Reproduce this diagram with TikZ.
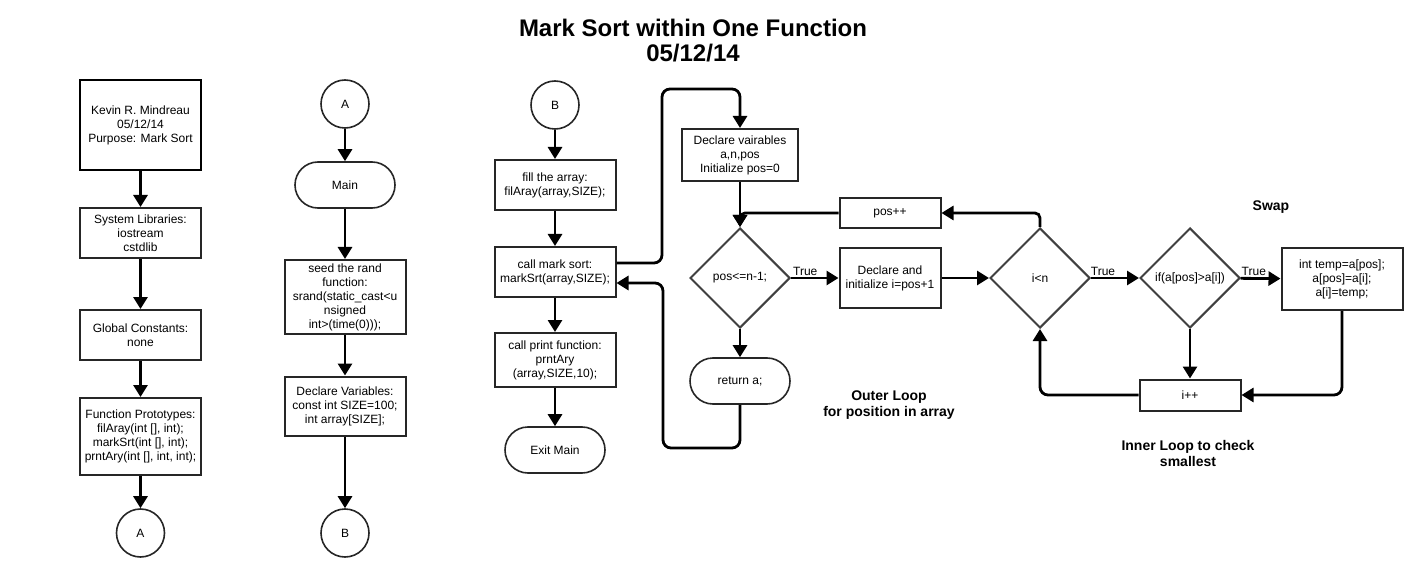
\documentclass[tikz,border=0pt]{standalone}
\usepackage{fontspec}
\setmainfont{Liberation Sans}
\usetikzlibrary{shapes.geometric,arrows.meta}
\begin{document}
\begin{tikzpicture}[x=1pt,y=-1pt,>={Triangle[length=12pt,width=14pt]},
    txt/.style={font=\fontsize{12}{14}\selectfont},
    box/.style={txt,draw=black!85,line width=2pt,minimum width=121pt,align=center,inner sep=2pt},
    term/.style={txt,draw=black!85,line width=1.6pt,rounded corners=23pt,minimum width=100pt,minimum height=46pt},
    conn/.style={txt,circle,draw=black!85,line width=1.6pt,minimum size=48pt},
    dec/.style={txt,diamond,draw=black!75,line width=2pt,minimum width=100pt,minimum height=100pt,inner sep=0pt},
    arr/.style={->,line width=2.8pt,rounded corners=8pt},
    tru/.style={txt,above,inner sep=1pt},
    lbl/.style={font=\bfseries\fontsize{14}{16}\selectfont,align=center}]
    \useasboundingbox(0,0)rectangle(1422,580);
    \node[font=\bfseries\fontsize{24}{25}\selectfont,align=center](title)at(693,41){Mark Sort within One Function\\05/12/14};
    \node[box,draw=black,minimum height=90pt](kev)at(140.5,125){Kevin R. Mindreau\\05/12/14\\Purpose: Mark Sort};
    \node[box,minimum height=50pt](lib)at(140.5,233){System Libraries:\\iostream\\cstdlib};
    \node[box,minimum height=50pt](glob)at(140.5,335){Global Constants:\\none};
    \node[box,minimum height=77pt](proto)at(140.5,436.5){Function Prototypes:\\filAray(int [], int);\\markSrt(int [], int);\\prntAry(int [], int, int);};
    \node[conn](ca1)at(140.5,533){A};
    \node[conn](ca2)at(345,104){A};
    \node[term](main)at(345,185){Main};
    \node[box,minimum height=74pt](seed)at(345,297){seed the rand\\function:\\srand(static\_cast<u\\nsigned\\int>(time(0)));};
    \node[box,minimum height=59pt](decv)at(345,406){Declare Variables:\\const int SIZE=100;\\int array[SIZE];};
    \node[conn](cb1)at(345,533){B};
    \node[conn](cb2)at(555,105){B};
    \node[box,minimum height=50pt](fill)at(555,185){fill the array:\\filAray(array,SIZE);};
    \node[box,minimum height=50pt](msort)at(555,272){call mark sort:\\markSrt(array,SIZE);};
    \node[box,minimum height=54pt](prnt)at(555,360){call print function:\\prntAry\\(array,SIZE,10);};
    \node[term](exit)at(555,450){Exit Main};
    \node[box,minimum width=116pt,minimum height=52pt](decl)at(740,155){Declare vairables\\a,n,pos\\Initialize pos=0};
    \node[dec](pd)at(740,278){pos<=n-1;};
    \node[term](ret)at(740,381){return a;};
    \node[box,minimum width=101pt,minimum height=30pt](posinc)at(890,213){pos++};
    \node[box,minimum width=101pt,minimum height=60pt](dinit)at(890,278){Declare and\\initialize i=pos+1};
    \node[dec](lt)at(1040,278){i<n};
    \node[dec](cmp)at(1190,278){if(a[pos]>a[i])};
    \node[box,minimum width=121pt,minimum height=62pt](swap)at(1342,279){int temp=a[pos];\\a[pos]=a[i];\\a[i]=temp;};
    \node[box,minimum width=101pt,minimum height=31pt](iinc)at(1190,395){i++};
    \node[lbl](swl)at(1271,207){Swap};
    \node[lbl](outl)at(889,405){Outer Loop\\for position in array};
    \node[lbl](innl)at(1188,453){Inner Loop to check\\smallest};
    \coordinate(up)at(662,89);\coordinate(dn)at(663,448);
    \draw[arr](kev)--(lib);\draw[arr](lib)--(glob);\draw[arr](glob)--(proto);\draw[arr](proto)--(ca1);
    \draw[arr](ca2)--(main);\draw[arr](main)--(seed);\draw[arr](seed)--(decv);\draw[arr](decv)--(cb1);
    \draw[arr](cb2)--(fill);\draw[arr](fill)--(msort);\draw[arr](msort)--(prnt);\draw[arr](prnt)--(exit);
    \draw[arr]([yshift=9pt]msort.east)-|(up)-|(decl.north);
    \draw[arr](ret.south)|-(dn)|-([yshift=-11pt]msort.east);
    \draw[arr](decl)--(pd);\draw[arr](pd)--(ret);
    \draw[arr](pd)--node[tru,pos=0.3]{True}(dinit);
    \draw[arr](dinit)--(lt);
    \draw[arr](lt)--node[tru,pos=0.25]{True}(cmp);
    \draw[arr](cmp)--node[tru,pos=0.33]{True}(swap);
    \draw[arr](cmp)--(iinc);
    \draw[arr](swap.south)|-(iinc.east);
    \draw[arr](iinc.west)-|(lt.south);
    \draw[arr,rounded corners=5pt](lt.north)|-(posinc.east);
    \draw[arr,rounded corners=5pt](posinc.west)-|(pd.north);
\end{tikzpicture}
\end{document}
